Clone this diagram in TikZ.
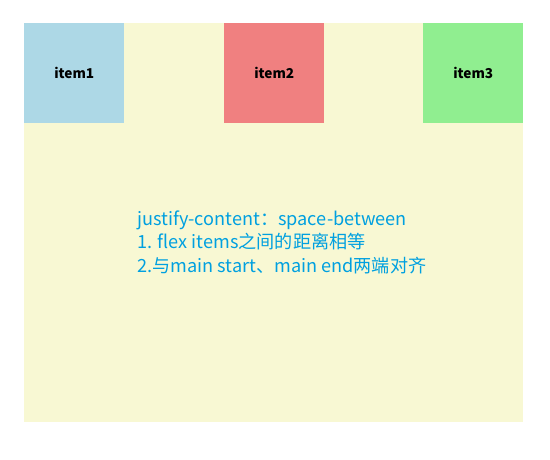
\documentclass[tikz,border=0pt]{standalone}
\usepackage{fontspec}
\setmainfont{Noto Sans CJK SC}
\usepackage{tikz}
\usetikzlibrary{positioning}
\usepackage{xcolor}
\definecolor{lightgoldenrod}{HTML}{F8F8D3}
\definecolor{lightblue}{HTML}{ADD8E6}
\definecolor{lightcoral}{HTML}{F08080}
\definecolor{lightgreen}{HTML}{90EE90}
\definecolor{notetext}{HTML}{00A0E0}
\tikzstyle{container} = [rectangle, fill=lightgoldenrod, inner sep=0pt, minimum width=374.25pt, minimum height=299.25pt]
\tikzstyle{itembox} = [rectangle, inner sep=0pt, minimum width=75pt, minimum height=75pt, font=\fontsize{10.2pt}{11pt}\selectfont\bfseries]
\tikzstyle{note} = [align=left, text=notetext, inner sep=0pt, font=\fontsize{13.6pt}{17.6pt}\selectfont]

\begin{document}
\begin{tikzpicture}
		\useasboundingbox (0,0) rectangle (412.5pt,-345pt);
		% Place nodes
		\node [container, anchor=north west] (box) at (18pt,-17.25pt) {};
		\node [itembox, fill=lightblue, anchor=north west] (item1) at (box.north west) {item1};
		\node [itembox, fill=lightcoral, right of=item1, node distance=75pt, xshift=75pt] (item2) {item2};
		\node [itembox, fill=lightgreen, anchor=north east] (item3) at (box.north east) {item3};
		\node [note, anchor=west] (spacebetween) at (102.75pt,-181.5pt) {justify-content：space-between\\1. flex items之间的距离相等\\2.与main start、main end两端对齐};
	\end{tikzpicture}
\end{document}
